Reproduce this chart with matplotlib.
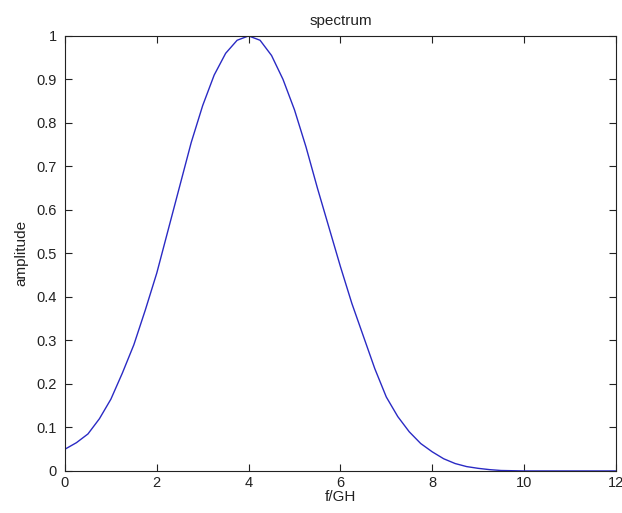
import matplotlib

matplotlib.use("Agg")
import matplotlib.pyplot as plt

# spectrum (f in GHz, normalised amplitude)
freq = [0.0, 0.25, 0.5, 0.75, 1.0, 1.25, 1.5, 1.75, 2.0, 2.25, 2.5, 2.75,
        3.0, 3.25, 3.5, 3.75, 4.0, 4.25, 4.5, 4.75, 5.0, 5.25, 5.5, 5.75,
        6.0, 6.25, 6.5, 6.75, 7.0, 7.25, 7.5, 7.75, 8.0, 8.25, 8.5, 8.75,
        9.0, 9.25, 9.5, 9.75, 10.0, 11.0, 12.0]
amp = [0.050, 0.065, 0.085, 0.120, 0.165, 0.225, 0.290, 0.370, 0.455, 0.555,
       0.655, 0.755, 0.840, 0.910, 0.960, 0.990, 1.000, 0.990, 0.955, 0.900,
       0.830, 0.745, 0.650, 0.560, 0.470, 0.385, 0.310, 0.235, 0.170, 0.125,
       0.090, 0.063, 0.044, 0.028, 0.017, 0.010, 0.006, 0.003, 0.001, 0.0005,
       0.0, 0.0, 0.0]

xticks = [0, 2, 4, 6, 8, 10, 12]
yticks = [0, 0.1, 0.2, 0.3, 0.4, 0.5, 0.6, 0.7, 0.8, 0.9, 1]
ytick_labels = ["0", "0.1", "0.2", "0.3", "0.4", "0.5", "0.6", "0.7", "0.8", "0.9", "1"]

LINE = "#2a2ac4"
INK = "#222222"

plt.rcParams["font.family"] = ["Liberation Sans", "DejaVu Sans"]

fig = plt.figure(figsize=(6.22, 5.13), dpi=100, facecolor="white")
ax = fig.add_axes([0.1045, 0.082, 0.8855, 0.848])
ax.plot(freq, amp, color=LINE, linewidth=1.0)

ax.set_xlim(0, 12)
ax.set_ylim(0, 1)
ax.set_xticks(xticks)
ax.set_yticks(yticks)
ax.set_yticklabels(ytick_labels)
ax.tick_params(direction="in", length=5, width=0.8, colors=INK, labelsize=10.5,
               top=True, right=True)
ax.tick_params(axis="y", pad=6)
ax.tick_params(axis="x", pad=4)
for spine in ax.spines.values():
    spine.set_color(INK)
    spine.set_linewidth(0.8)

ax.set_title("spectrum", fontsize=11, color=INK, pad=8)
ax.set_xlabel("f/GH", fontsize=11, color=INK, labelpad=0)
ax.set_ylabel("amplitude", fontsize=11, color=INK, labelpad=6)

plt.savefig("out.png", dpi=100, facecolor="white")
plt.close()
